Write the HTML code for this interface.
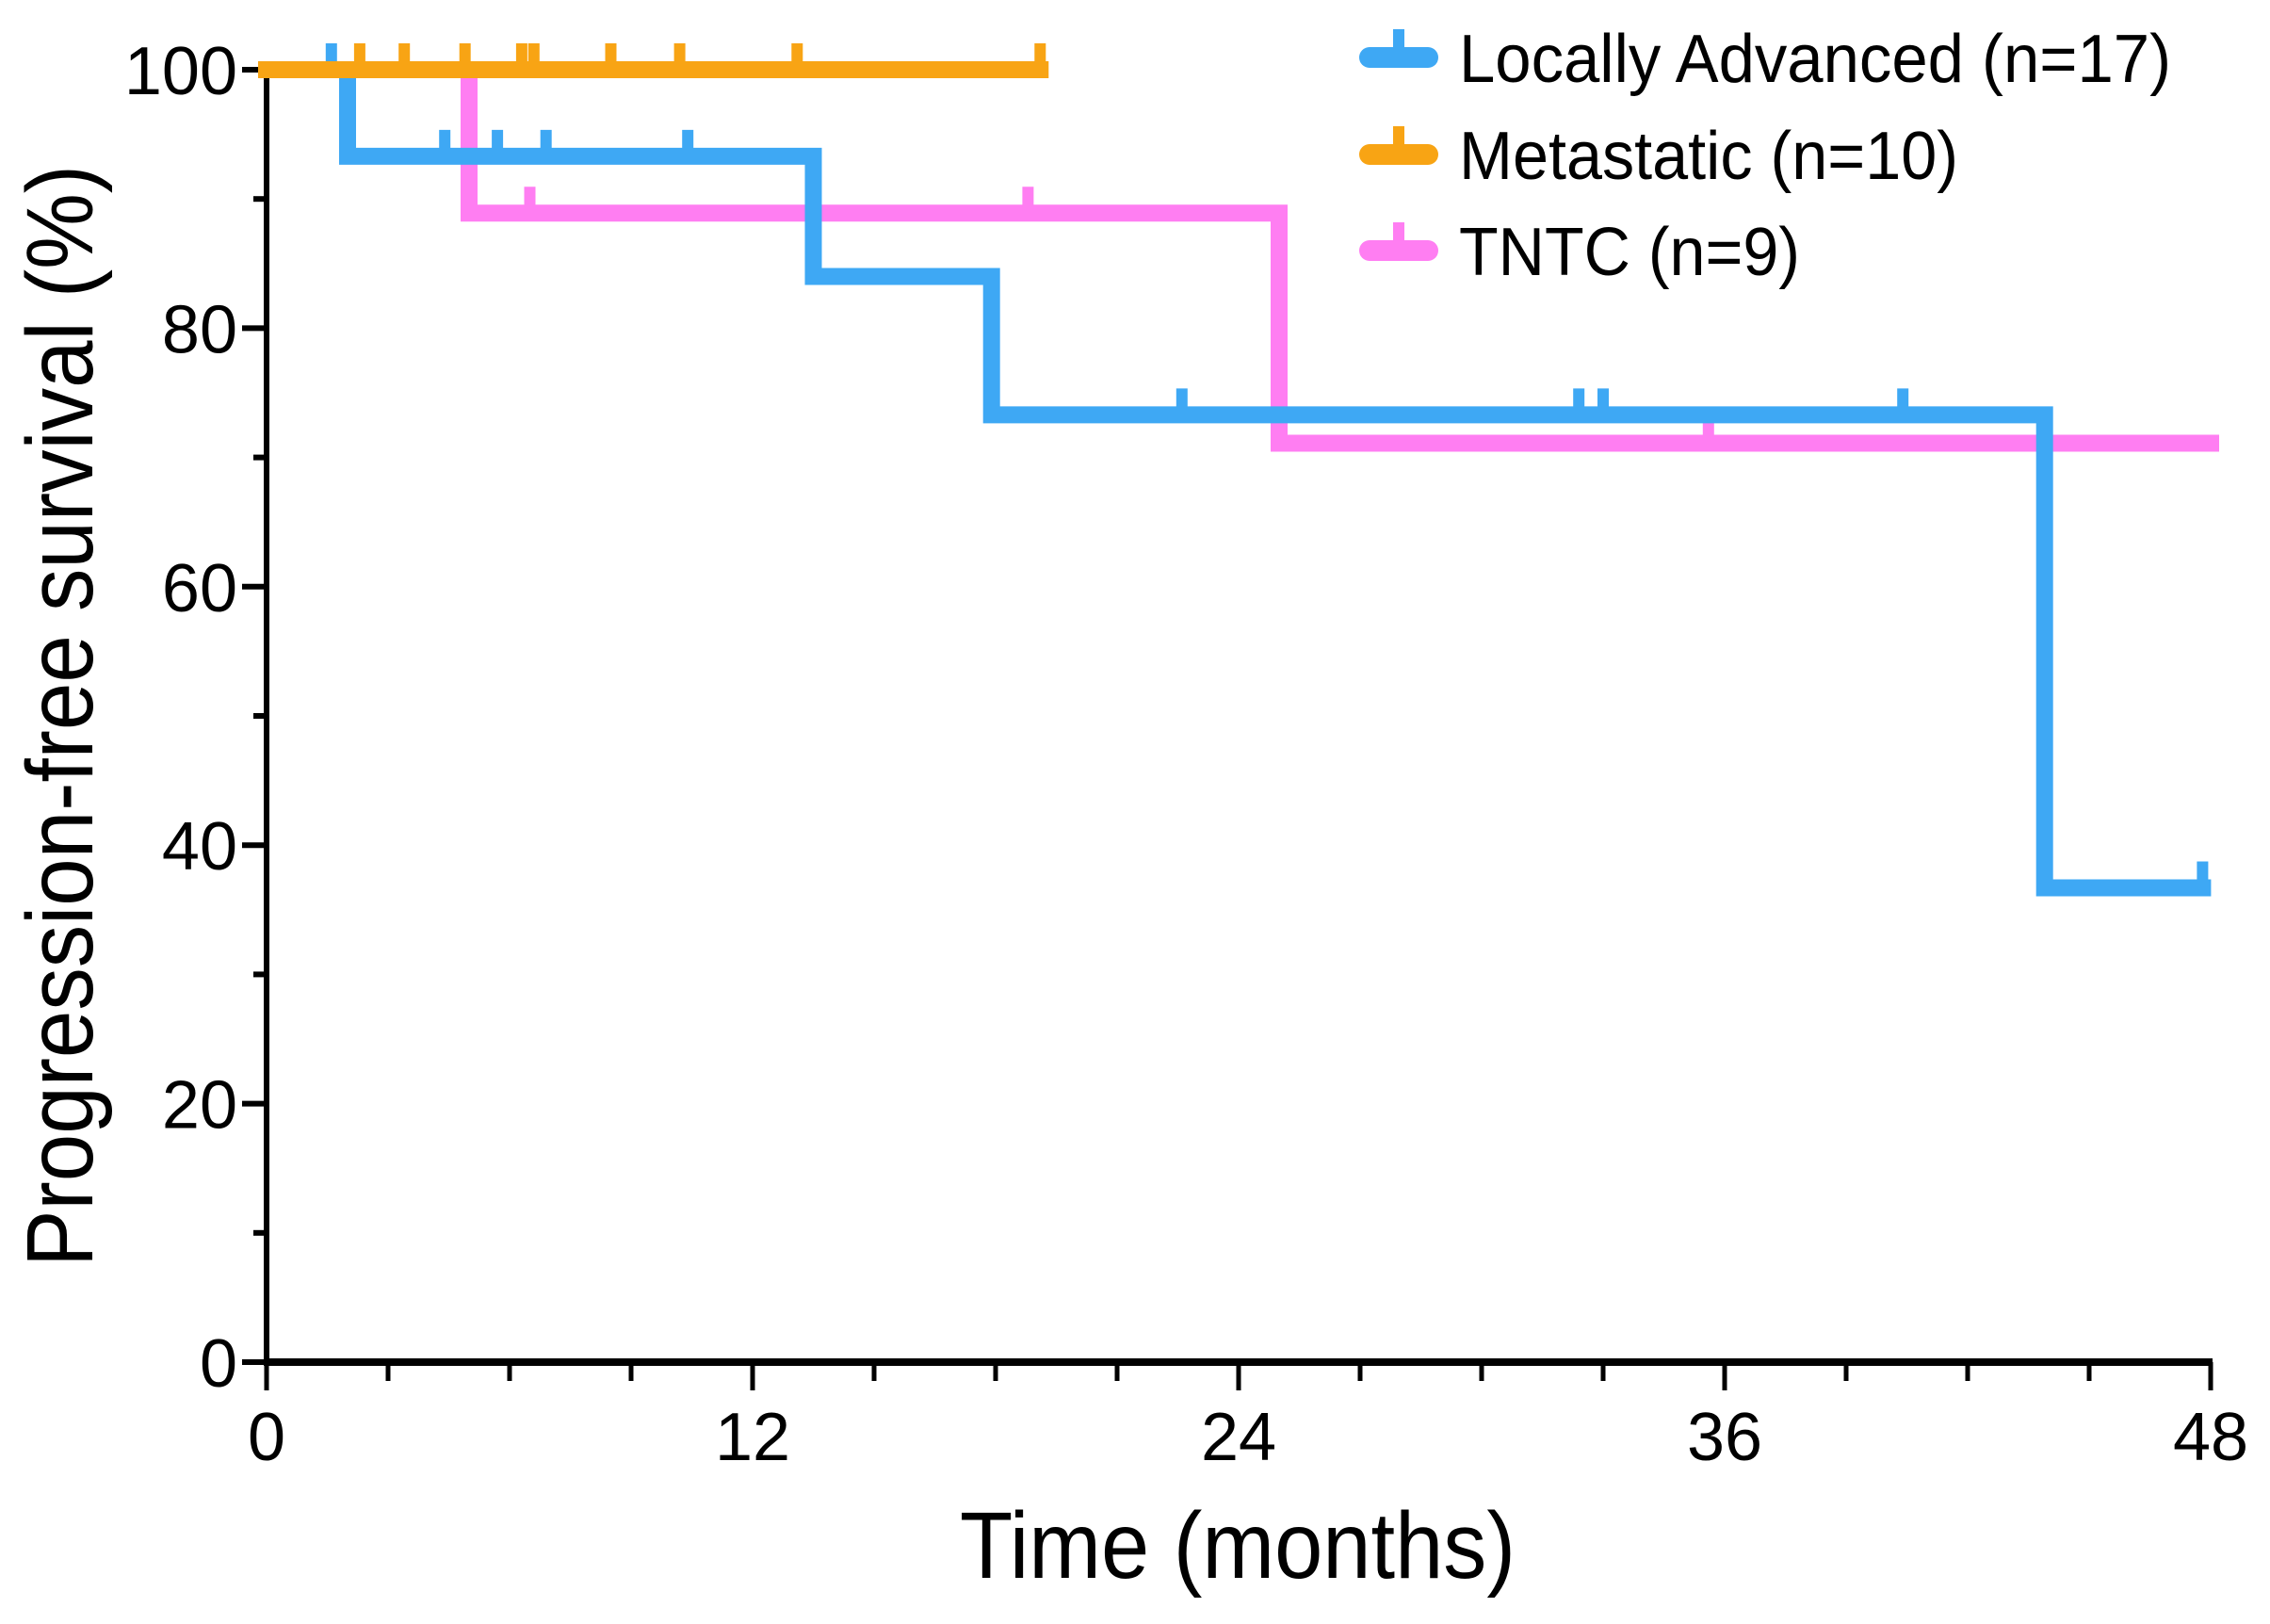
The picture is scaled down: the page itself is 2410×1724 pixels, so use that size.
<!DOCTYPE html>
<html><head><meta charset="utf-8"><style>
html,body{margin:0;padding:0;background:#fff;}
svg{display:block;font-family:"Liberation Sans",Arial,sans-serif;}
</style></head><body>
<svg id="chart" width="2410" height="1724" viewBox="0 0 2410 1724" xmlns="http://www.w3.org/2000/svg">
<g id="axes"></g>
<g id="series"></g>
<g id="legend"></g>
<text x="1314" y="1675" font-size="100" text-anchor="middle" textLength="590" lengthAdjust="spacingAndGlyphs">Time (months)</text>
<text transform="translate(98,760) rotate(-90)" font-size="100" text-anchor="middle" textLength="1170" lengthAdjust="spacingAndGlyphs">Progression-free survival (%)</text>
</svg>
<script>
const xTicks = [0, 12, 24, 36, 48];
const yTicks = [0, 20, 40, 60, 80, 100];
const seriesNames = ["Locally Advanced (n=17)", "Metastatic (n=10)", "TNTC (n=9)"];
const blueSteps = [[0,100],[2.0,93.3],[13.5,84.0],[17.9,73.3],[43.9,36.7],[47.8,36.7]];
const blueCensor = [[1.6,100],[4.4,93.3],[5.7,93.3],[6.9,93.3],[10.4,93.3],[22.6,73.3],[32.4,73.3],[33.0,73.3],[40.4,73.3],[47.8,36.7]];
const orangeSteps = [[0,100],[19.1,100]];
const orangeCensor = [[2.3,100],[3.4,100],[4.9,100],[6.3,100],[6.6,100],[8.5,100],[10.2,100],[13.1,100],[19.1,100]];
const pinkSteps = [[0,100],[5.0,88.9],[25.0,71.1],[48,71.1]];
const pinkCensor = [[6.5,88.9],[18.8,88.9],[35.6,71.1]];

const NS="http://www.w3.org/2000/svg";
const X0=283,X1=2347,Y0=1446,Y1=74;
const sx=v=>X0+(X1-X0)*v/48;
const sy=v=>Y0-(Y0-Y1)*v/100;
function mk(tag,attrs,parent){const e=document.createElementNS(NS,tag);for(const k in attrs)e.setAttribute(k,attrs[k]);parent.appendChild(e);return e;}
const axes=document.getElementById('axes');
let e=mk('line',{x1:X0,y1:Y1-4,x2:X0,y2:Y0,stroke:'#000','stroke-width':6},axes);


e=mk('line',{x1:X0-3,y1:Y0,x2:X1+2,y2:Y0,stroke:'#000','stroke-width':8},axes);


for(let v=0;v<=100;v+=10){const maj=v%20===0;
 e=mk('line',{x1:X0-(maj?26:14),y1:sy(v),x2:X0,y2:sy(v),stroke:'#000','stroke-width':6},axes);
 
 }
yTicks.forEach(v=>{e=mk('text',{x:252,y:sy(v)+26,'font-size':72,'text-anchor':'end'},axes);e.textContent=v;
 
 });
for(let v=0;v<=48;v+=3){const maj=v%12===0;
 e=mk('line',{x1:sx(v),y1:Y0,x2:sx(v),y2:Y0+(maj?30:20),stroke:'#000','stroke-width':5},axes);
 
 }
xTicks.forEach(v=>{e=mk('text',{x:sx(v),y:1550,'font-size':72,'text-anchor':'middle'},axes);e.textContent=v;
 
 });
const ser=document.getElementById('series');
function draw(steps,cens,color,name){
 let d='M'+sx(steps[0][0])+' '+sy(steps[0][1]);
 for(let i=1;i<steps.length;i++){d+=' H'+sx(steps[i][0])+' V'+sy(steps[i][1]);}
 const p=mk('path',{d:d,fill:'none',stroke:color,'stroke-width':18,'stroke-linejoin':'miter','stroke-linecap':'square'},ser);
 
 
 cens.forEach(c=>{const t=mk('line',{x1:sx(c[0]),y1:sy(c[1]),x2:sx(c[0]),y2:sy(c[1])-28,stroke:color,'stroke-width':12},ser);
  
  });
}
draw(pinkSteps,pinkCensor,'#ff7ef2','tntc');
draw(blueSteps,blueCensor,'#3ea8f4','locally-advanced');
draw(orangeSteps,orangeCensor,'#f8a414','metastatic');
const leg=document.getElementById('legend');
const cols=['#3ea8f4','#f8a414','#ff7ef2'];const ly=[61,164,266];const lw=[756,530,362];
seriesNames.forEach((n,i)=>{
 const g=mk('g',{},leg);
 
 
 mk('line',{x1:1454,y1:ly[i],x2:1516,y2:ly[i],stroke:cols[i],'stroke-width':22,'stroke-linecap':'round'},g);
 mk('line',{x1:1485,y1:ly[i],x2:1485,y2:ly[i]-30,stroke:cols[i],'stroke-width':12},g);
 const t=mk('text',{x:1549,y:ly[i]+26,'font-size':72,textLength:lw[i],lengthAdjust:'spacingAndGlyphs'},g);
 t.textContent=n;
});
</script>
</body></html>
